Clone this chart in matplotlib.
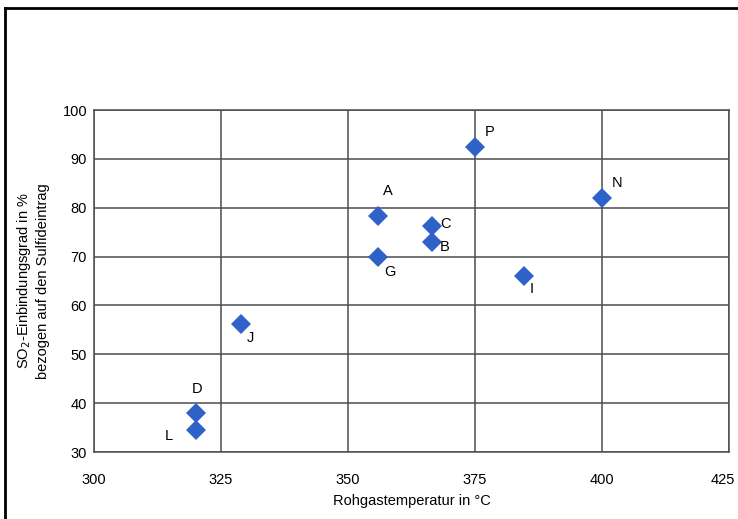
import matplotlib.pyplot as plt
import matplotlib.transforms as mtransforms
from matplotlib.lines import Line2D

# dati
labels = ["A", "B", "C", "D", "G", "I", "J", "L", "N", "P"]
temp = [356, 366.5, 366.5, 320, 356, 384.6, 329, 320, 400, 375]
so2 = [78.3, 72.9, 76.2, 38.0, 69.9, 66.0, 56.2, 34.5, 82.0, 92.4]
# posizione etichette (offset in punti)
offsets = {"A": (3, 18), "B": (6, -3), "C": (6, 2), "D": (-3, 17), "G": (4, -11),
           "I": (4, -9), "J": (4, -10), "L": (-22, -4), "N": (7, 11), "P": (7, 11)}

xticks = [300, 325, 350, 375, 400, 425]
yticks = [30, 40, 50, 60, 70, 80, 90, 100]

plt.rcParams['font.family'] = ['Liberation Sans', 'DejaVu Sans']
fs = 10.5

fig = plt.figure(figsize=(7.38, 5.19), dpi=100)
ax = fig.add_axes([0.1274, 0.129, 0.8604, 0.659])

ax.plot(temp, so2, 'D', color='#2f62c8', markersize=10.5, markeredgewidth=0, zorder=3)
for lab, x, y in zip(labels, temp, so2):
    ax.annotate(lab, (x, y), xytext=offsets[lab], textcoords='offset points',
                fontsize=fs, ha='left', va='center')

ax.set_xlim(300, 425)
ax.set_ylim(30, 100)
ax.set_xticks(xticks)
ax.set_yticks(yticks)
ax.tick_params(axis='x', length=0, labelsize=fs, pad=15)
ax.tick_params(axis='y', length=0, labelsize=fs, pad=5)
last = ax.get_xticklabels()[-1]
last.set_horizontalalignment('right')
last.set_transform(last.get_transform() + mtransforms.ScaledTranslation(6 / 100, 0, fig.dpi_scale_trans))
ax.grid(True, color='#4d4d4d', linewidth=1.1)
ax.set_axisbelow(True)
for s in ax.spines.values():
    s.set_color('#4d4d4d')
    s.set_linewidth(1.1)

ax.set_xlabel("Rohgastemperatur in °C", fontsize=fs, labelpad=5)
ax.set_ylabel("SO$_2$-Einbindungsgrad in %\nbezogen auf den Sulfideintrag", fontsize=fs,
              labelpad=9, linespacing=1.25)

# cornice (solo sinistra e sopra visibili)
fig.add_artist(Line2D([5 / 738, 5 / 738], [0, 1 - 8 / 519], color='black', linewidth=2))
fig.add_artist(Line2D([5 / 738, 1], [1 - 8 / 519, 1 - 8 / 519], color='black', linewidth=2))

fig.savefig("out.png", dpi=100)
